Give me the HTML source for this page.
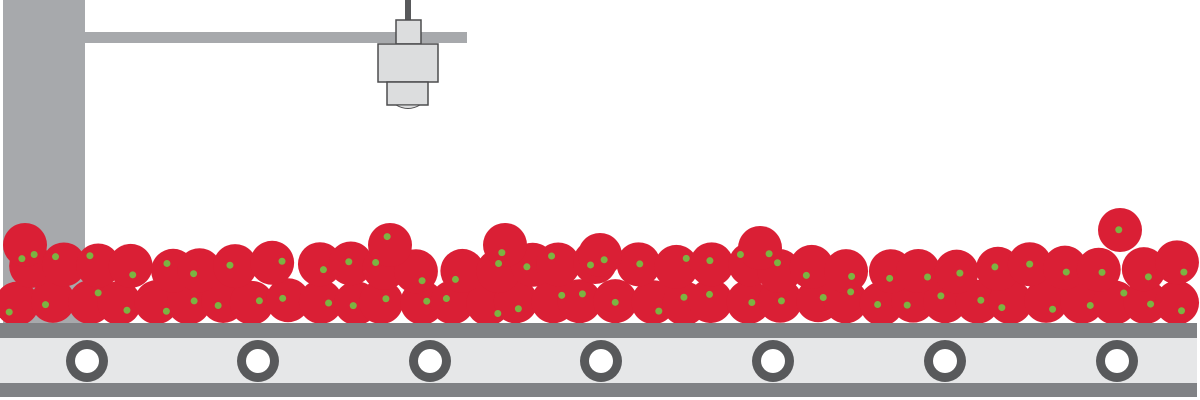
<!DOCTYPE html>
<html><head><meta charset="utf-8"><style>html,body{margin:0;padding:0;background:#fff}svg{display:block}</style></head>
<body>
<svg id="s" width="1200" height="400" viewBox="0 0 1200 400" xmlns="http://www.w3.org/2000/svg">
<rect x="3" y="0" width="82" height="325" fill="#a7a9ac"/>
<rect x="85" y="32" width="382" height="11" fill="#a7a9ac"/>
<rect x="405" y="0" width="6" height="21" fill="#58595b"/>
<rect x="396" y="20" width="25" height="24" fill="#dcddde" stroke="#4d4d4f" stroke-width="1.5"/>
<rect x="378" y="44" width="60" height="38" fill="#dcddde" stroke="#4d4d4f" stroke-width="1.5"/>
<rect x="387" y="82" width="41" height="23" fill="#dcddde" stroke="#4d4d4f" stroke-width="1.5"/>
<path d="M396 105 Q408 112 420 105 Z" fill="#dcddde" stroke="#4d4d4f" stroke-width="1"/>
<g id="tom"></g>
<rect x="0" y="323" width="1197" height="15" fill="#808285"/>
<rect x="0" y="338" width="1197" height="45" fill="#e6e7e8"/>
<rect x="0" y="383" width="1197" height="14" fill="#808285"/>
<g id="rol"></g>
</svg>
<script>
var NS="http://www.w3.org/2000/svg";
function c(g,x,y,r,f){var e=document.createElementNS(NS,"circle");e.setAttribute("cx",x);e.setAttribute("cy",y);e.setAttribute("r",r);e.setAttribute("fill",f);g.appendChild(e);}
var rol=document.getElementById("rol");
[87,258,430,601,773,945,1117].forEach(function(x){c(rol,x,361,21,"#58595b");c(rol,x,361,12,"#fff");});
var seed=7;function rnd(){seed=(seed*16807)%2147483647;return seed/2147483647;}
var t=document.getElementById("tom");var pts=[];
for(var x=22;x<1190;x+=33){pts.push([x+rnd()*10-5,300+rnd()*4]);}
for(var x=25;x<1180;x+=36){pts.push([x+rnd()*14-7,262+rnd()*10]);}
pts.push([1120,230]);pts.push([25,245]);pts.push([390,245]);pts.push([505,245]);pts.push([600,255]);pts.push([760,248]);
pts.forEach(function(p){c(t,p[0],p[1],22,"#da1f35");});
pts.forEach(function(p){c(t,p[0]+rnd()*20-10,p[1]+rnd()*20-10,3.5,"#7cb342");});
</script>
</body></html>
